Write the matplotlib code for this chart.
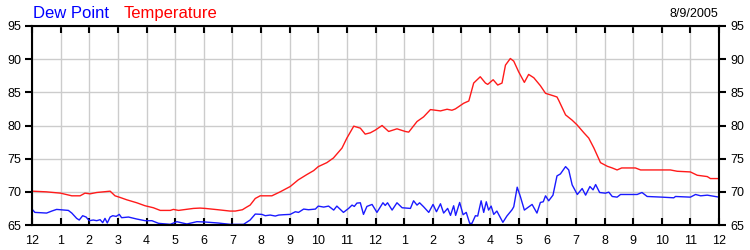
import matplotlib
matplotlib.use("Agg")
import matplotlib.pyplot as plt

plt.rcParams['font.family'] = ['Liberation Sans', 'DejaVu Sans']

# hours since midnight, temperature (F)
temp_hours = [0.0, 0.5, 1.0, 1.39, 1.68, 1.85, 2.03, 2.26, 2.5, 2.73, 2.9, 3.08, 3.31, 3.66, 3.95,
              4.24, 4.48, 4.83, 4.94, 5.12, 5.29, 5.64, 5.87, 6.05, 6.5, 6.92, 7.1, 7.35, 7.5, 7.62,
              7.8, 7.97, 8.38, 8.67, 9.02, 9.3, 9.6, 9.84, 10.0, 10.3, 10.53, 10.83, 11.0, 11.24,
              11.47, 11.64, 11.82, 11.99, 12.23, 12.46, 12.75, 13.04, 13.16, 13.45, 13.68, 13.92,
              14.27, 14.5, 14.67, 14.79, 15.08, 15.26, 15.43, 15.66, 15.84, 15.92, 16.11, 16.27,
              16.42, 16.54, 16.71, 16.83, 17.0, 17.2, 17.35, 17.53, 17.76, 17.94, 18.2, 18.34,
              18.4, 18.64, 18.87, 19.04, 19.28, 19.45, 19.63, 19.86, 20.1, 20.27, 20.44, 20.6,
              21.08, 21.26, 22.3, 22.54, 23.0, 23.24, 23.59, 23.7, 24.0]
temp = [70.1, 70.0, 69.8, 69.4, 69.4, 69.8, 69.7, 69.9, 70.0, 70.1, 69.4, 69.15, 68.8, 68.35, 67.9,
        67.6, 67.2, 67.2, 67.35, 67.2, 67.3, 67.5, 67.55, 67.5, 67.3, 67.1, 67.1, 67.3, 67.7, 68.0,
        69.0, 69.4, 69.4, 70.0, 70.8, 71.8, 72.6, 73.2, 73.8, 74.4, 75.1, 76.6, 78.1, 79.9,
        79.6, 78.7, 78.9, 79.3, 80.0, 79.1, 79.5, 79.1, 79.0, 80.6, 81.3, 82.4,
        82.2, 82.45, 82.3, 82.5, 83.35, 83.7, 86.4, 87.35, 86.4, 86.2, 86.9, 86.1,
        86.4, 89.1, 90.1, 89.7, 88.1, 86.5, 87.7, 87.2, 86.0, 84.85, 84.5, 84.3,
        83.8, 81.6, 80.8, 80.1, 78.9, 78.1, 76.6, 74.4, 73.85, 73.6, 73.3, 73.6,
        73.6, 73.3, 73.3, 73.1, 73.0, 72.5, 72.3, 72.0, 72.0]

dew_hours = [0.0, 0.1, 0.51, 0.69, 0.86, 1.27, 1.39, 1.56, 1.65, 1.77, 1.89, 2.0, 2.14, 2.26, 2.38,
             2.47, 2.55, 2.63, 2.73, 2.82, 2.94, 3.05, 3.13, 3.37, 3.66, 3.95, 4.19, 4.42, 4.83,
             5.06, 5.41, 5.76, 6.05, 6.5, 6.92, 7.39, 7.62, 7.8, 8.03, 8.15, 8.32, 8.5, 8.62, 8.79,
             9.02, 9.2, 9.31, 9.49, 9.66, 9.9, 10.0, 10.19, 10.36, 10.54, 10.65, 10.88, 11.06,
             11.18, 11.26, 11.35, 11.47, 11.58, 11.7, 11.88, 12.05, 12.26, 12.34, 12.42, 12.58,
             12.75, 12.93, 13.22, 13.33, 13.45, 13.54, 13.68, 13.86, 14.01, 14.13, 14.27, 14.38,
             14.52, 14.62, 14.73, 14.8, 14.94, 15.06, 15.17, 15.29, 15.37, 15.49, 15.57, 15.69,
             15.78, 15.87, 15.95, 16.04, 16.13, 16.24, 16.45, 16.59, 16.77, 16.83, 16.95, 17.06,
             17.2, 17.47, 17.64, 17.76, 17.86, 17.94, 18.05, 18.2, 18.34, 18.46, 18.64, 18.75,
             18.87, 19.05, 19.22, 19.34, 19.49, 19.6, 19.69, 19.83, 20.03, 20.15, 20.27, 20.44,
             20.56, 21.14, 21.31, 21.49, 22.01, 22.42, 22.48, 23.0, 23.18, 23.36, 23.59, 24.0]
dew = [67.4, 66.9, 66.8, 67.1, 67.35, 67.2, 66.8, 66.0, 65.75, 66.4, 66.2, 65.65, 65.75, 65.65, 65.8,
       65.35, 66.0, 65.3, 66.2, 66.4, 66.3, 66.6, 66.1, 66.2, 65.9, 65.65, 65.65, 65.25, 65.1,
       65.5, 65.15, 65.5, 65.45, 65.3, 65.1, 65.1, 65.75, 66.65, 66.6, 66.4, 66.5, 66.35, 66.5, 66.55,
       66.6, 67.0, 66.9, 67.4, 67.3, 67.4, 67.85, 67.7, 67.85, 67.25, 67.85, 66.9, 67.5,
       68.0, 67.8, 68.3, 68.35, 66.6, 67.8, 68.1, 66.9, 68.35, 67.95, 68.35, 67.25,
       68.35, 67.6, 67.5, 68.65, 68.0, 68.35, 67.75, 66.9, 68.1, 67.0, 68.2, 66.8,
       67.5, 66.45, 67.9, 66.45, 68.4, 66.55, 66.9, 65.25, 65.25, 66.4, 66.35, 68.65,
       66.9, 68.5, 67.25, 67.85, 66.6, 67.1, 65.4, 66.35, 67.3, 67.75, 70.7, 69.3,
       67.25, 68.1, 66.8, 68.4, 68.5, 69.4, 68.65, 69.5, 72.4, 72.7, 73.8, 73.3,
       71.05, 69.6, 70.5, 69.5, 70.8, 70.3, 71.1, 69.9, 69.8, 69.95, 69.3, 69.2,
       69.6, 69.6, 69.9, 69.3, 69.2, 69.1, 69.3, 69.2, 69.6, 69.4, 69.5, 69.2]

hour_labels = ['12', '1', '2', '3', '4', '5', '6', '7', '8', '9', '10', '11',
               '12', '1', '2', '3', '4', '5', '6', '7', '8', '9', '10', '11', '12']
y_ticks = [65, 70, 75, 80, 85, 90, 95]

fig = plt.figure(figsize=(7.5, 2.5), dpi=100)
ax = fig.add_axes([32 / 750, 1 - 225 / 250, 687 / 750, 199 / 250])

ax.plot(dew_hours, dew, color='#1a1aff', linewidth=1.0)
ax.plot(temp_hours, temp, color='#ff1a1a', linewidth=1.0)

ax.set_xlim(0, 24)
ax.set_ylim(65, 95)
ax.set_xticks(range(25))
ax.set_xticklabels(hour_labels)
ax.set_yticks(y_ticks)
ax.grid(True, color='#cccccc', linewidth=1.0)
ax.set_axisbelow(True)

for s in ax.spines.values():
    s.set_linewidth(1.5)
    s.set_color('black')

ax.tick_params(axis='x', direction='in', length=5, width=1.5, top=True, labelsize=9, pad=7)
ax.tick_params(axis='y', direction='out', length=5, width=1.5, right=True, labelright=True,
               labelsize=9, pad=3)

fig.text(33 / 750, 1 - 18 / 250, 'Dew Point', color='blue', fontsize=12, va='baseline')
fig.text(124 / 750, 1 - 18 / 250, 'Temperature', color='red', fontsize=12, va='baseline')
fig.text(718 / 750, 1 - 17 / 250, '8/9/2005', color='black', fontsize=9, ha='right', va='baseline')

fig.savefig('out.png', dpi=100)
